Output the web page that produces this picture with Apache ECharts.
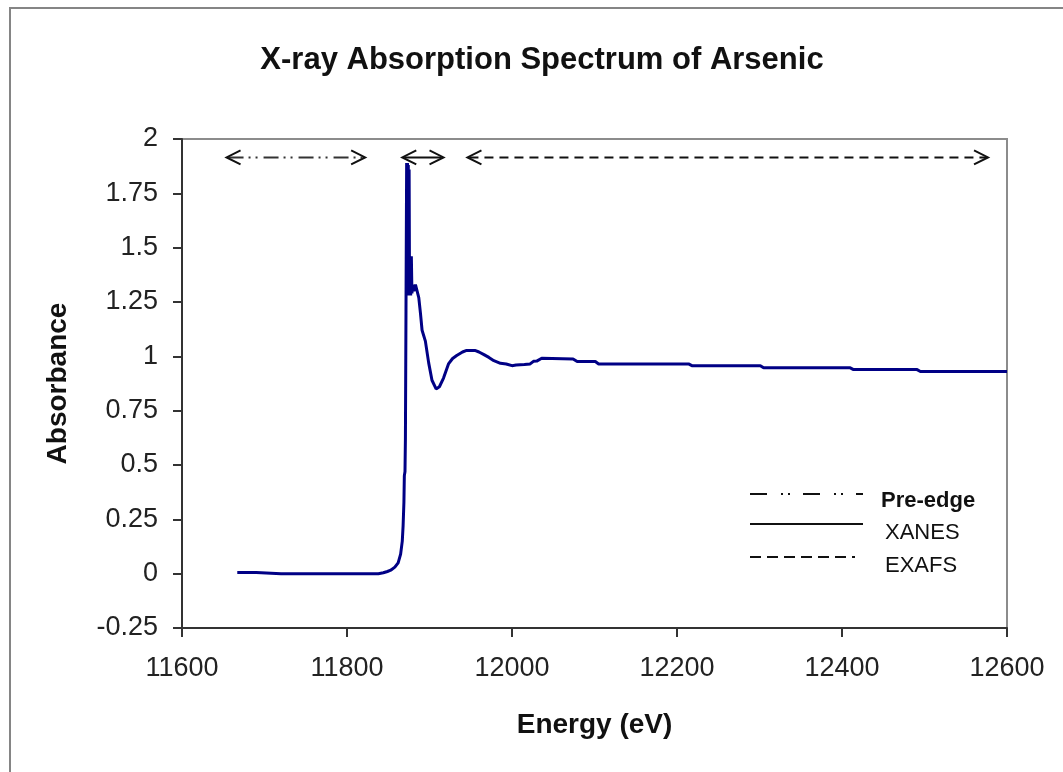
<!DOCTYPE html>
<html>
<head>
<meta charset="utf-8">
<title>X-ray Absorption Spectrum of Arsenic</title>
<script src="https://cdn.jsdelivr.net/npm/echarts@6/dist/echarts.min.js"></script>
<style>
  html, body { margin: 0; padding: 0; background: #ffffff; }
  #chart { width: 1063px; height: 772px; }
</style>
</head>
<body>
<div id="chart"></div>
<script>
// Arsenic K-edge absorption spectrum (energy in eV, absorbance)
const energy = [
  11667, 11690, 11692, 11720, 11760, 11800, 11838, 11844, 11849, 11853,
  11858, 11862, 11865, 11867, 11868, 11869, 11869.5, 11870.3, 11870.8, 11871.5,
  11872.3, 11872.8, 11873.3, 11873.8, 11874.3, 11874.8, 11875.3, 11875.8, 11876.5, 11877.2,
  11878, 11878.7, 11879.5, 11881, 11883, 11885, 11887, 11889, 11891, 11895,
  11899, 11903, 11908, 11912, 11917, 11923, 11928, 11933, 11940, 11945,
  11955, 11960, 11966, 11972, 11978, 11986, 11993, 12000, 12005, 12015,
  12022, 12026, 12030, 12036, 12074, 12079, 12101, 12105, 12214, 12218,
  12301, 12305, 12410, 12414, 12491, 12495, 12600
];
const absorbance = [
  0.005, 0.005, 0.0, 0.0, 0.0, 0.0, 0.0, 0.004, 0.01, 0.016,
  0.03, 0.05, 0.09, 0.15, 0.22, 0.33, 0.45, 0.47, 0.62, 1.21,
  1.89, 1.28, 1.89, 1.28, 1.88, 1.30, 1.86, 1.30, 1.46, 1.28,
  1.46, 1.29, 1.33, 1.30, 1.33, 1.30, 1.27, 1.20, 1.12, 1.07,
  0.97, 0.89, 0.85, 0.86, 0.90, 0.965, 0.99, 1.004, 1.02, 1.027,
  1.027, 1.02, 1.008, 0.995, 0.98, 0.968, 0.965, 0.957, 0.96, 0.962,
  0.965, 0.977, 0.978, 0.991, 0.988, 0.976, 0.976, 0.965, 0.965, 0.957,
  0.957, 0.947, 0.947, 0.939, 0.939, 0.93, 0.93
];

// Energy ranges of the three spectral regions, shown as double arrows
const regionNames = ['Pre-edge', 'XANES', 'EXAFS'];
const regionStart = [11654, 11867, 11946];
const regionEnd = [11822, 11917, 12577];
const arrowLevel = 1.915;

// Axis ticks
const xTicks = { min: 11600, max: 12600, interval: 200 };
const yTicks = { min: -0.25, max: 2, interval: 0.25 };

const spectrum = energy.map((e, i) => [e, absorbance[i]]);
const regions = regionNames.map((n, i) => ({ name: n, value: [regionStart[i], regionEnd[i], arrowLevel] }));

const FONT = "'Liberation Sans', Arial, sans-serif";
const regionDash = [[15, 5, 2, 5, 2, 6], null, [9, 6]];
const regionColor = ['#333333', '#111111', '#111111'];

function renderArrow(params, api) {
  const s = api.coord([api.value(0), api.value(2)]);
  const e = api.coord([api.value(1), api.value(2)]);
  const i = params.dataIndex;
  const d = 14, h = 7;
  const head = { stroke: '#111111', lineWidth: 2, fill: null };
  return {
    type: 'group',
    children: [
      {
        type: 'line',
        shape: { x1: s[0] + 2, y1: s[1], x2: e[0] - 2, y2: e[1] },
        style: { stroke: regionColor[i], lineWidth: 2, lineDash: regionDash[i] }
      },
      {
        type: 'polyline',
        shape: { points: [[s[0] + d, s[1] - h], [s[0], s[1]], [s[0] + d, s[1] + h]] },
        style: head
      },
      {
        type: 'polyline',
        shape: { points: [[e[0] - d, e[1] - h], [e[0], e[1]], [e[0] - d, e[1] + h]] },
        style: head
      }
    ]
  };
}

// Key box in the lower right of the plot
const keyLineY = [494, 524, 557];
const keyTextY = [501, 533, 566];
const keyTextX = [881, 885, 885];
const keyLineEnd = [863, 863, 855];
const keyDash = [[17, 14, 2, 5, 2, 13], null, [11, 6]];
const keyGraphics = [];
regionNames.forEach((n, i) => {
  keyGraphics.push({
    type: 'line',
    shape: { x1: 750, y1: keyLineY[i], x2: keyLineEnd[i], y2: keyLineY[i] },
    style: { stroke: '#111111', lineWidth: 2, lineDash: keyDash[i] }
  });
  keyGraphics.push({
    type: 'text',
    x: keyTextX[i],
    y: keyTextY[i],
    style: {
      text: n,
      font: (i === 0 ? 'bold ' : '') + '22px ' + FONT,
      fill: '#111111',
      textVerticalAlign: 'middle',
      verticalAlign: 'middle'
    }
  });
});

const chart = echarts.init(document.getElementById('chart'), null, { renderer: 'canvas' });
chart.setOption({
  backgroundColor: '#ffffff',
  animation: false,
  title: {
    text: 'X-ray Absorption Spectrum of Arsenic',
    left: 537,
    top: 40,
    textAlign: 'center',
    textStyle: { fontFamily: FONT, fontSize: 31, fontWeight: 'bold', color: '#111111' }
  },
  grid: {
    left: 182, right: 56, top: 139, bottom: 144,
    show: true, borderColor: '#8c8c8c', borderWidth: 2, backgroundColor: 'transparent'
  },
  xAxis: {
    type: 'value',
    min: xTicks.min, max: xTicks.max, interval: xTicks.interval,
    name: 'Energy (eV)',
    nameLocation: 'middle',
    nameGap: 83,
    nameTextStyle: { fontFamily: FONT, fontSize: 28, fontWeight: 'bold', color: '#111111' },
    axisLine: { show: true, onZero: false, lineStyle: { color: '#333333', width: 2 } },
    axisTick: { show: true, inside: false, length: 9, lineStyle: { color: '#333333', width: 2 } },
    axisLabel: {
      fontFamily: FONT, fontSize: 27, color: '#222222', margin: 27,
      formatter: (v) => String(v)
    },
    splitLine: { show: false }
  },
  yAxis: {
    type: 'value',
    min: yTicks.min, max: yTicks.max, interval: yTicks.interval,
    name: 'Absorbance',
    nameLocation: 'middle',
    nameGap: 110,
    nameTextStyle: { fontFamily: FONT, fontSize: 28, fontWeight: 'bold', color: '#111111' },
    axisLine: { show: true, onZero: false, lineStyle: { color: '#333333', width: 2 } },
    axisTick: { show: true, inside: false, length: 9, lineStyle: { color: '#333333', width: 2 } },
    axisLabel: { fontFamily: FONT, fontSize: 27, color: '#222222', margin: 24 },
    splitLine: { show: false }
  },
  series: [
    {
      name: 'Absorbance',
      type: 'line',
      data: spectrum,
      showSymbol: false,
      symbol: 'none',
      lineStyle: { color: '#000085', width: 3 },
      z: 3
    },
    {
      name: 'Regions',
      type: 'custom',
      data: regions,
      encode: { x: [0, 1], y: 2 },
      renderItem: renderArrow,
      clip: false,
      z: 4
    }
  ],
  graphic: [
    {
      type: 'rect',
      shape: { x: 10, y: 8, width: 1200, height: 900 },
      style: { stroke: '#858585', lineWidth: 2, fill: null },
      silent: true
    }
  ].concat(keyGraphics)
});
</script>
</body>
</html>
